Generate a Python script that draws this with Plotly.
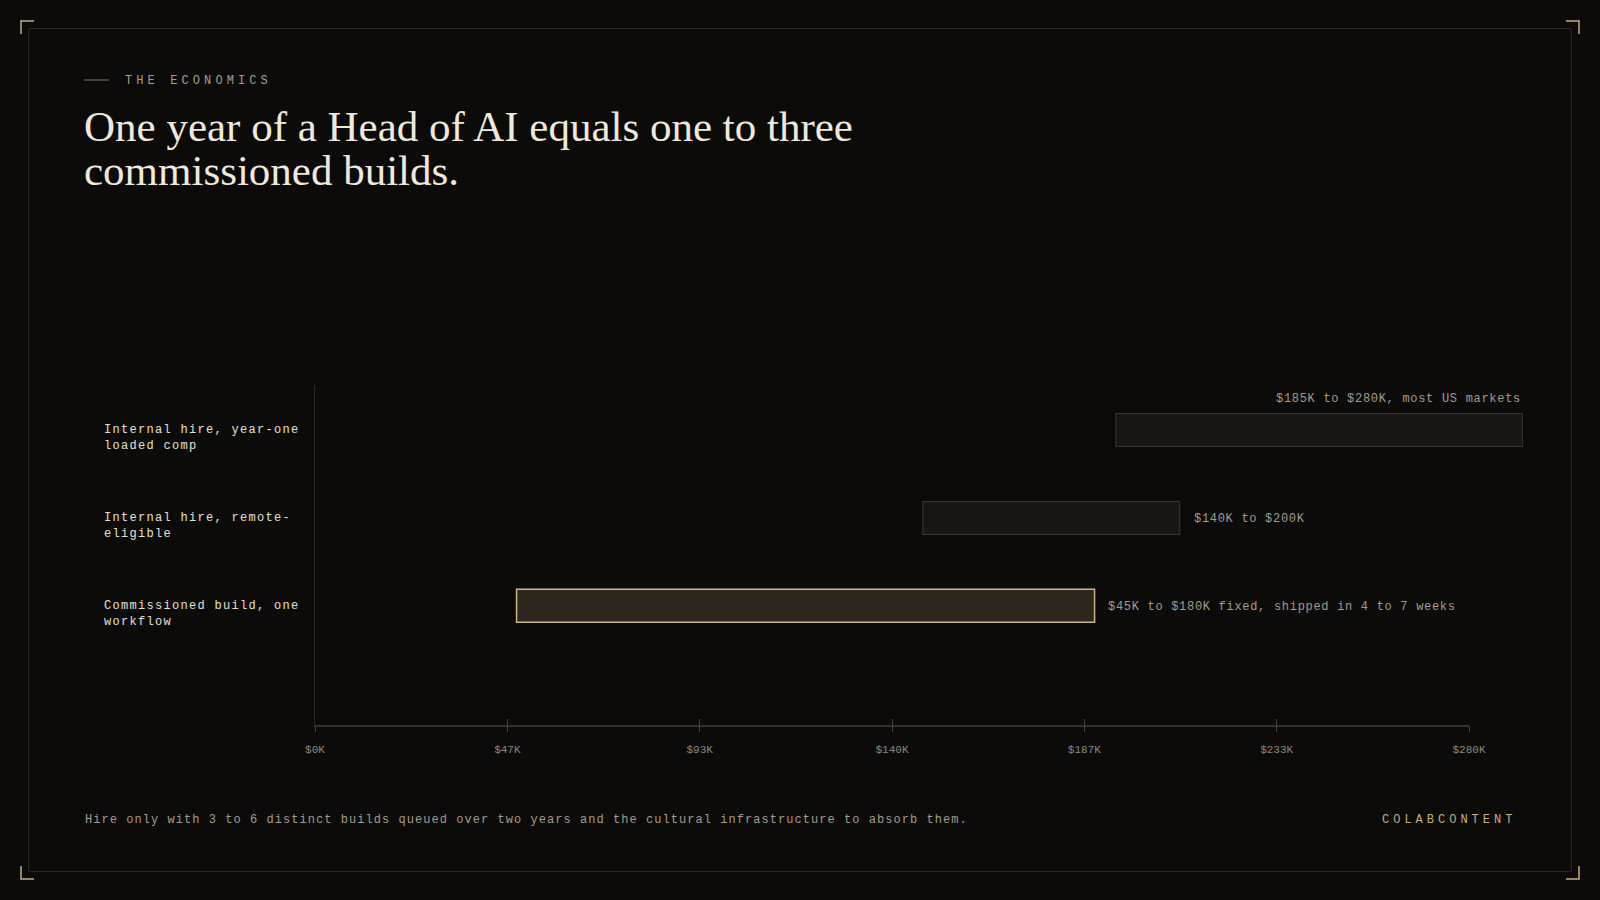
import plotly.graph_objects as go

# ---------------- data ----------------
categories = [
    "Internal hire, year-one loaded comp",
    "Internal hire, remote-eligible",
    "Commissioned build, one workflow",
]
category_labels = [
    "Internal hire, year-one<br>loaded comp",
    "Internal hire, remote-<br>eligible",
    "Commissioned build, one<br>workflow",
]
range_low_k = [185, 140, 45]
range_high_k = [280, 200, 180]
value_labels = [
    "$185K to $280K, most US markets",
    "$140K to $200K",
    "$45K to $180K fixed, shipped in 4 to 7 weeks",
]
axis_max_k = 280
tick_values_k = [0, 280 / 6, 280 * 2 / 6, 140, 280 * 4 / 6, 280 * 5 / 6, 280]
tick_labels = ["$0K", "$47K", "$93K", "$140K", "$187K", "$233K", "$280K"]

eyebrow = "THE ECONOMICS"
title_lines = ["One year of a Head of AI equals one to three", "commissioned builds."]
footer = "Hire only with 3 to 6 distinct builds queued over two years and the cultural infrastructure to absorb them."
brand = "COLABCONTENT"

# ---------------- style ----------------
W, H = 1600, 900
BG = "#0c0b0a"
MONO = "Liberation Mono, DejaVu Sans Mono, monospace"
SERIF = "Liberation Serif, DejaVu Serif, serif"
TAN = "#c4ad84"


def X(px):
    return px / W


def Y(py):
    return 1 - py / H


def spaced(text, ls):
    return f'<span style="letter-spacing:{ls}px">{text}</span>'


n = len(categories)
ypos = [n - 1 - i for i in range(n)]  # top row first
highlight = [False, False, True]

fill_colors = ["#2c261d" if h else "#191716" for h in highlight]
line_colors = ["#cdb68d" if h else "#3a3734" for h in highlight]
line_widths = [1.5 if h else 1 for h in highlight]

fig = go.Figure()
fig.add_trace(
    go.Bar(
        orientation="h",
        y=ypos,
        base=range_low_k,
        x=[hi - lo for lo, hi in zip(range_low_k, range_high_k)],
        width=0.375,
        marker=dict(color=fill_colors, line=dict(color=line_colors, width=line_widths)),
        xaxis="x",
        yaxis="y",
        hoverinfo="skip",
        showlegend=False,
    )
)
# invisible helper traces so the tick axes (x2 outside ticks, x3 inside ticks) get drawn
for ax in ["x2", "x3"]:
    fig.add_trace(
        go.Scatter(
            x=[tick_values_k[0], tick_values_k[-1]], y=[ypos[-1], ypos[-1]],
            xaxis=ax, yaxis="y", mode="markers",
            marker=dict(opacity=0, size=1), hoverinfo="skip", showlegend=False,
        )
    )

annotations = []
# category labels
for yp, lab in zip(ypos, category_labels):
    annotations.append(
        dict(
            x=X(102), xref="paper", xanchor="left",
            y=yp, yref="y", yanchor="middle", yshift=-7,
            text=spaced(lab, 1.3), align="left", showarrow=False,
            font=dict(family=MONO, size=12, color="#e6e0d4"),
        )
    )
# value labels
for yp, lo, hi, lab in zip(ypos, range_low_k, range_high_k, value_labels):
    if hi >= axis_max_k:
        annotations.append(
            dict(
                x=hi, xref="x", xanchor="right",
                y=yp, yref="y", yanchor="middle", yshift=32,
                text=spaced(lab, 0.7), showarrow=False,
                font=dict(family=MONO, size=12, color="#a39c90"),
            )
        )
    else:
        annotations.append(
            dict(
                x=hi, xref="x", xanchor="left", xshift=11,
                y=yp, yref="y", yanchor="middle",
                text=spaced(lab, 0.7), showarrow=False,
                font=dict(family=MONO, size=12, color="#a39c90"),
            )
        )

# eyebrow
annotations.append(
    dict(x=X(123), xref="paper", xanchor="left", y=Y(80.5), yref="paper", yanchor="middle",
         text=spaced(eyebrow, 4.1), showarrow=False,
         font=dict(family=MONO, size=12, color="#a59e91"))
)
# title lines
for i, line in enumerate(title_lines):
    annotations.append(
        dict(x=X(82), xref="paper", xanchor="left", y=Y(101 + 44.5 * i), yref="paper", yanchor="top",
             text=line, showarrow=False,
             font=dict(family=SERIF, size=43, color="#efe8dc"))
    )
# footer
annotations.append(
    dict(x=X(83), xref="paper", xanchor="left", y=Y(819.5), yref="paper", yanchor="middle",
         text=spaced(footer, 1.05), showarrow=False,
         font=dict(family=MONO, size=12, color="#a39c90"))
)
annotations.append(
    dict(x=X(1518), xref="paper", xanchor="right", y=Y(819.5), yref="paper", yanchor="middle",
         text=spaced(brand, 4.0), showarrow=False,
         font=dict(family=MONO, size=12, color=TAN))
)

shapes = [
    # frame
    dict(type="rect", xref="paper", yref="paper",
         x0=X(28.5), x1=X(1571.5), y0=Y(28.5), y1=Y(871.5),
         line=dict(color="#292623", width=1), fillcolor="rgba(0,0,0,0)", layer="below"),
    # eyebrow rule
    dict(type="line", xref="paper", yref="paper",
         x0=X(84), x1=X(109), y0=Y(80), y1=Y(80),
         line=dict(color="#8c7b5e", width=1)),
]
# corner brackets
L = 13
for cx, cy, dx, dy in [(21, 21, 1, 1), (1579, 21, -1, 1), (21, 879, 1, -1), (1579, 879, -1, -1)]:
    path = (f"M {X(cx)},{Y(cy + dy * L)} L {X(cx)},{Y(cy)} L {X(cx + dx * L)},{Y(cy)}")
    shapes.append(dict(type="path", xref="paper", yref="paper", path=path,
                       line=dict(color=TAN, width=1.5)))

tick_axis_common = dict(
    range=[0, axis_max_k], tickmode="array", tickvals=tick_values_k,
    showgrid=False, zeroline=False, fixedrange=True, automargin=False,
)

fig.update_layout(
    template="none",
    width=W, height=H, autosize=False,
    margin=dict(l=0, r=0, t=0, b=0, pad=0, autoexpand=False),
    paper_bgcolor=BG, plot_bgcolor="rgba(0,0,0,0)",
    bargap=0,
    showlegend=False,
    xaxis=dict(domain=[X(324.3), X(1523)], range=[0, axis_max_k], visible=False,
               anchor="y", fixedrange=True, automargin=False),
    xaxis2=dict(domain=[X(315), X(1469)], anchor="y", ticktext=tick_labels,
                ticks="outside", ticklen=6, tickcolor="#46423d", tickwidth=1,
                showline=True, linecolor="#34312d", linewidth=1.5,
                tickfont=dict(family=MONO, size=11, color="#8e887e"),
                ticklabelstandoff=8, **tick_axis_common),
    xaxis3=dict(overlaying="x2", anchor="y", ticks="inside", ticklen=6,
                tickcolor="#46423d", tickwidth=1, showticklabels=False,
                showline=False, **tick_axis_common),
    yaxis=dict(domain=[Y(724.5), Y(385)], range=[-1.34, 2.518], anchor="x2",
               showline=True, linecolor="#2a2825", linewidth=1,
               showticklabels=False, ticks="", showgrid=False, zeroline=False,
               fixedrange=True, automargin=False),
    annotations=annotations,
    shapes=shapes,
)

fig.write_html(
    "out.html",
    config={"responsive": False, "displayModeBar": False},
    post_script=(
        "document.documentElement.style.margin='0';"
        "document.documentElement.style.overflow='hidden';"
        "document.body.style.margin='0';"
        "document.body.style.overflow='hidden';"
        "document.body.style.background='%s';" % BG
    ),
)
